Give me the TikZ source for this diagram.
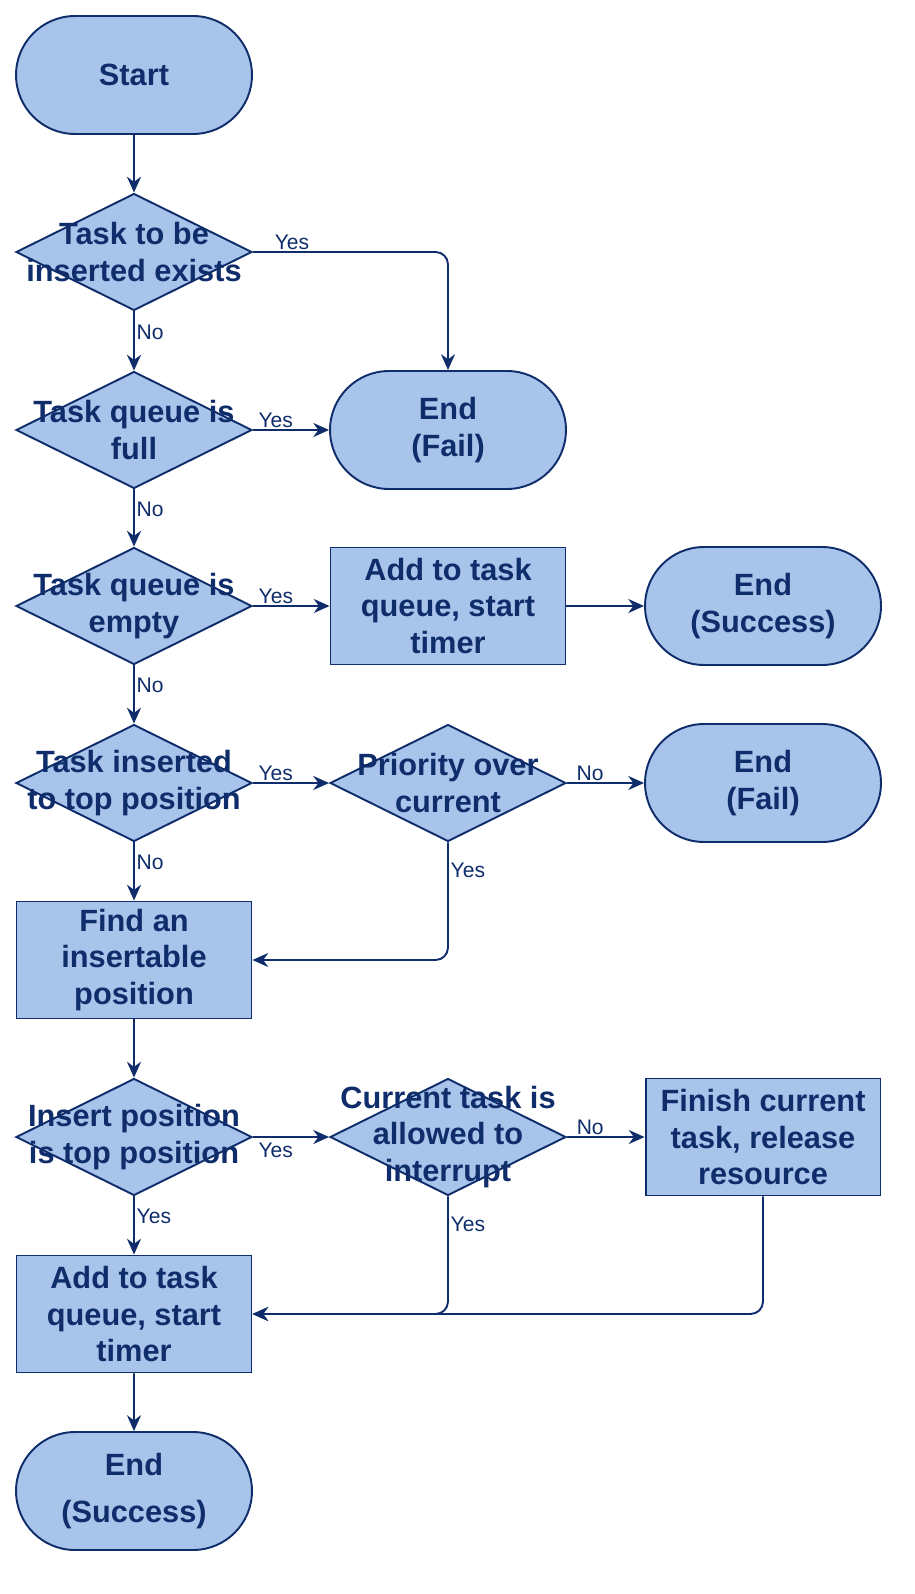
\documentclass[tikz,border=0pt]{standalone}
\usepackage{fontspec}
\setmainfont{Liberation Sans}
\usetikzlibrary{shapes.geometric,shapes.misc,arrows.meta}
\definecolor{flowfill}{HTML}{A9C4EB}
\definecolor{flowline}{HTML}{0F2D6B}
\tikzset{
  base/.style={draw=flowline, fill=flowfill, line width=1.1pt, text=flowline,
    font=\fontsize{17.5}{21}\selectfont\bfseries, align=center, inner sep=0pt},
  term/.style={base, rounded rectangle, minimum width=4.72cm, minimum height=2.36cm},
  proc/.style={base, rectangle, minimum width=4.7cm, minimum height=2.34cm},
  dia/.style={base, diamond, minimum width=4.72cm, minimum height=2.34cm},
  dtext/.style={text=flowline, font=\fontsize{17.5}{21}\selectfont\bfseries, align=center},
  lbl/.style={text=flowline, font=\fontsize{12}{14}\selectfont, inner sep=1pt},
  flow/.style={draw=flowline, line width=1.1pt, rounded corners=0.25cm,
    -{Stealth[length=9pt,width=8pt]}}
}
\begin{document}
\begin{tikzpicture}[x=0.02cm,y=-0.02cm]
  \useasboundingbox (0,0) rectangle (914,1594);
  % first column
  \node[term] (start) at (134,75) {Start};
  \node[dia] (d1) at (134,252) {};
  \node[dtext] at (d1) {Task to be\\inserted exists};
  \node[dia] (d2) at (134,430) {};
  \node[dtext] at (d2) {Task queue is\\full};
  \node[dia] (d3) at (134,606) {};
  \node[dtext] at (d3) {Task queue is\\empty};
  \node[dia] (d4) at (134,783) {};
  \node[dtext] at (d4) {Task inserted\\to top position};
  \node[proc] (find) at (134,960) {Find an\\insertable\\position};
  \node[dia] (d5) at (134,1137) {};
  \node[dtext] at (d5) {Insert position\\is top position};
  \node[proc] (add2) at (134,1314) {Add to task\\queue, start\\timer};
  \node[term] (ok2) at (134,1491) {End\\[6pt](Success)};
  % second column
  \node[term] (fail1) at (448,430) {End\\(Fail)};
  \node[proc] (add1) at (448,606) {Add to task\\queue, start\\timer};
  \node[dia] (prio) at (448,783) {};
  \node[dtext] at (prio) {Priority over\\current};
  \node[dia] (intr) at (448,1137) {};
  \node[dtext] at (intr) {Current task is\\allowed to\\interrupt};
  % third column
  \node[term] (ok1) at (763,606) {End\\(Success)};
  \node[term] (fail2) at (763,783) {End\\(Fail)};
  \node[proc] (finish) at (763,1137) {Finish current\\task, release\\resource};
  % connectors
  \draw[flow] (start) -- (d1);
  \draw[flow] (d1) -- node[lbl, right, pos=0.35] {No} (d2);
  \draw[flow] (d1.east) -| node[lbl, above, pos=0.1] {Yes} (fail1);
  \draw[flow] (d2) -- node[lbl, above, pos=0.3] {Yes} (fail1);
  \draw[flow] (d2) -- node[lbl, right, pos=0.35] {No} (d3);
  \draw[flow] (d3) -- node[lbl, above, pos=0.3] {Yes} (add1);
  \draw[flow] (add1) -- (ok1);
  \draw[flow] (d3) -- node[lbl, right, pos=0.35] {No} (d4);
  \draw[flow] (d4) -- node[lbl, above, pos=0.3] {Yes} (prio);
  \draw[flow] (prio) -- node[lbl, above, pos=0.3] {No} (fail2);
  \draw[flow] (d4) -- node[lbl, right, pos=0.35] {No} (find);
  \draw[flow] (prio.south) |- node[lbl, right, pos=0.12] {Yes} (find.east);
  \draw[flow] (find) -- (d5);
  \draw[flow] (d5) -- node[lbl, below, pos=0.3, yshift=-2pt] {Yes} (intr);
  \draw[flow] (intr) -- node[lbl, above, pos=0.3] {No} (finish);
  \draw[flow] (d5) -- node[lbl, right, pos=0.35] {Yes} (add2);
  \draw[flow] (intr.south) |- node[lbl, right, pos=0.12] {Yes} (add2.east);
  \draw[flow] (finish.south) |- (add2.east);
  \draw[flow] (add2) -- (ok2);
\end{tikzpicture}
\end{document}
